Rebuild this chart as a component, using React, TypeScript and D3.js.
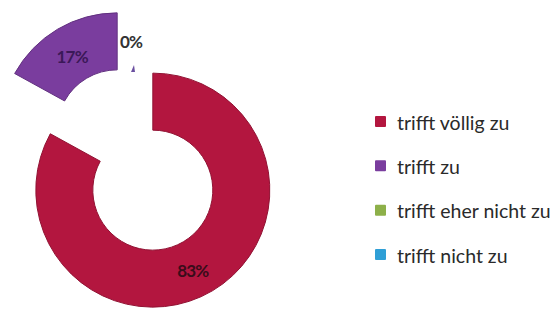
import React from 'react';
import * as d3 from 'd3';

const categories = ['trifft völlig zu', 'trifft zu', 'trifft eher nicht zu', 'trifft nicht zu'];
const values = [83, 17, 0, 0];
const colors = ['#b3163f', '#7a3d9e', '#8db049', '#2f9fd6'];
const labelColors = ['#3a0c1a', '#3b1858', '#333333', '#333333'];

const width = 558;
const height = 309;
const center = { x: 135, y: 160 };
const outerR = 117;
const innerR = 60;
const explode = 35;

const App = () => {
  const pie = d3.pie<number>().sort(null).value(d => d);
  const arcs = pie(values);
  const arc = d3.arc<d3.PieArcDatum<number>>().innerRadius(innerR).outerRadius(outerR);

  const offset = (a: d3.PieArcDatum<number>) => {
    const mid = (a.startAngle + a.endAngle) / 2;
    return [Math.sin(mid) * explode, -Math.cos(mid) * explode];
  };

  // label positions relative to each slice's exploded centre
  const labelPos = [[40, 80], [-45, -73], [-4, -119]];

  const legendY = d3.scalePoint<string>().domain(categories).range([121, 254]);

  return (
    <svg width={width} height={height} style={{ position: 'absolute', left: 0, top: 0, background: '#fff' }}>
      <g transform={`translate(${center.x},${center.y})`}>
        {arcs.map((a, i) => {
          const [dx, dy] = offset(a);
          if (a.value === 0) return null;
          return (
            <g key={i} transform={`translate(${dx},${dy})`}>
              <path d={arc(a) || ''} fill={colors[i]} stroke={d3.color(colors[i])!.darker(0.6).toString()} strokeWidth={1} />
            </g>
          );
        })}
        {/* tiny mark for the zero slices */}
        {(() => {
          const a = arcs[2];
          const [dx, dy] = offset(a);
          const x = Math.sin(a.startAngle) * (innerR + 8) + dx - 2;
          const y = -Math.cos(a.startAngle) * (innerR + 8) + dy + 11;
          return <path d={`M${x - 2},${y + 4} L${x + 1},${y - 3} L${x + 2},${y + 4} Z`} fill="#6a4fa0" />;
        })()}
        {arcs.map((a, i) => {
          if (a.value === 0 && i !== 2) return null;
          const [dx, dy] = a.value === 0 ? [0, 0] : offset(a);
          const [lx, ly] = labelPos[i];
          return (
            <text key={i} x={lx + dx} y={ly + dy} textAnchor="middle" dominantBaseline="central"
              fontFamily="Lato, 'Open Sans', sans-serif" fontSize={17} fontWeight={700}
              fill={labelColors[i]} letterSpacing={-0.8}>
              {`${a.value}%`}
            </text>
          );
        })}
      </g>
      <g>
        {categories.map((c, i) => (
          <g key={c} transform={`translate(375,${legendY(c)})`}>
            <rect x={0} y={-5} width={11} height={11} fill={colors[i]} rx={1} />
            <text x={22} y={1} dominantBaseline="central" fontFamily="Lato, 'Open Sans', sans-serif"
              fontSize={19.5} fill="#2a2a2a">{c}</text>
          </g>
        ))}
      </g>
    </svg>
  );
};

export default App;
